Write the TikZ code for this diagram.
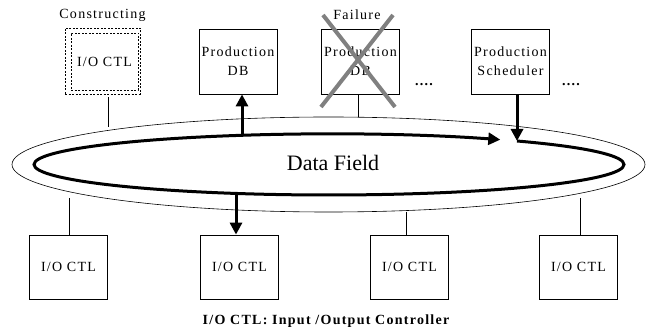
\documentclass[tikz,border=0pt]{standalone}
\usepackage{fontspec}
\setmainfont{Liberation Serif}
\newfontfamily\spaced{Liberation Serif}[LetterSpace=9]
\usetikzlibrary{shapes.geometric,arrows.meta}

\begin{document}
\begin{tikzpicture}[x=1pt,y=1pt,
		box/.style={draw,line width=0.8pt,minimum width=78pt,minimum height=65pt,inner sep=0pt,align=center,font=\spaced\fontsize{14}{19}\selectfont},
		dbox/.style={draw,dash pattern=on 2pt off 1.5pt,line width=0.8pt,inner sep=0pt},
		lbl/.style={font=\spaced\fontsize{14}{15}\selectfont},
		wire/.style={line width=0.8pt},
		bus/.style={line width=3pt,-{Triangle[length=12pt,width=12pt]}},
		cross/.style={line width=4pt,black!50}]
	
	\useasboundingbox (0,0) rectangle (653,329);
	
	%data field
	\node[ellipse,draw,line width=0.6pt,minimum width=633pt,minimum height=95pt,inner sep=0pt] (field) at (328.5,164.5) {};
	\node[font=\fontsize{22}{24}\selectfont] (fieldtext) at (333,166) {Data Field};
	\path (329,164.5) ++(50.4:295 and 30.5) coordinate (ringin);
	\draw[bus] (ringin) arc[start angle=50.4,end angle=-305.5,x radius=295,y radius=30.5];
	
	%upper units
	\node[dbox,minimum width=75pt,minimum height=66pt] (constr) at (102.5,268) {};
	\node[dbox,minimum width=67pt,minimum height=57pt,font=\spaced\fontsize{14}{15}\selectfont] (io0) at (104.5,267.5) {I/O CTL};
	\node[lbl] (constrlbl) at (102.5,314) {Constructing};
	
	\node[box] (db) at (238,267.5) {Production\\DB};
	\node[box] (faildb) at (360.5,267.5) {Production\\DB};
	\node[lbl] (faillbl) at (357,314) {Failure};
	\draw[cross] (323,314) -- (395,222);
	\draw[cross] (393,314) -- (321,222);
	\node[lbl,font=\spaced\bfseries\fontsize{14}{15}\selectfont] (dots1) at (424,244) {....};
	
	\node[box] (sched) at (510.5,267.5) {Production\\Scheduler};
	\node[lbl,font=\spaced\bfseries\fontsize{14}{15}\selectfont] (dots2) at (571,244) {....};
	
	%lower units
	\foreach \x [count=\i] in {68.5,239.5,409.5,578.5}
		\node[box,minimum height=64pt] (io\i) at (\x,62) {I/O CTL};
	
	\node[font=\spaced\bfseries\fontsize{14}{15}\selectfont] (legend) at (326,8) {I/O CTL: Input /Output Controller};
	
	%links
	\coordinate (f0) at (108,202);
	\coordinate (f2) at (358,212);
	\coordinate (b1) at (69,131);
	\coordinate (b3) at (406,117);
	\coordinate (b4) at (580,131);
	\coordinate (up) at (242,195);
	\coordinate (down) at (236,134);
	
	\draw[wire] ([yshift=-3pt]constr.south -| f0) -- (f0);
	\draw[wire] (faildb.south -| f2) -- (f2);
	\draw[wire] (b1) -- (io1.north -| b1);
	\draw[wire] (b3) -- (io3.north -| b3);
	\draw[wire] (b4) -- (io4.north -| b4);
	
	\draw[bus] (up) -- (db.south -| up);
	\draw[bus] (sched.south -| ringin) -- (ringin);
	\draw[bus] (down) -- (io2.north -| down);
	
\end{tikzpicture}
\end{document}
